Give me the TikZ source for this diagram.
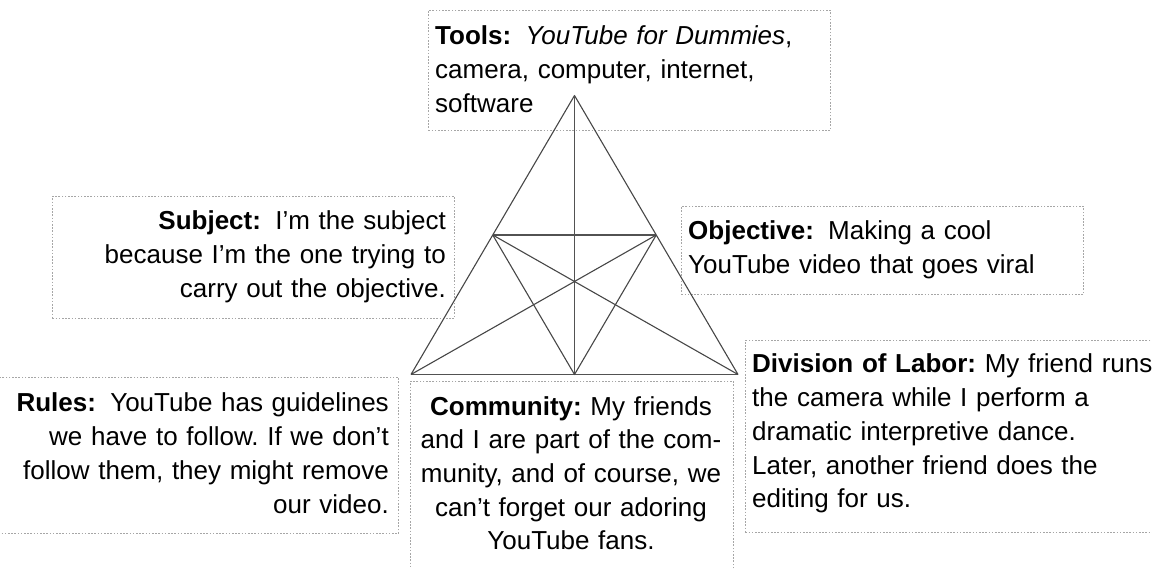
\documentclass[tikz,border=0pt]{standalone}
\usepackage{fontspec}
\setmainfont{Liberation Sans}
\usetikzlibrary{calc}
\frenchspacing
\begin{document}
\begin{tikzpicture}[x=1pt,y=-1pt,
  box/.style={draw=gray!70, line width=0.9pt, dash pattern=on 1.6pt off 1.6pt, inner sep=0pt, anchor=north west},
  txt/.style={inner sep=0pt, text width=450pt, font=\fontsize{26}{33.7}\selectfont\frenchspacing},
  tri/.style={draw=black!72, line width=1.1pt, line join=round},
  trithick/.style={draw=black!68, line width=1.8pt, line join=round}]
\useasboundingbox (0,0) rectangle (1152,569);
\clip (0,0) rectangle (1152,569);
% dotted boxes
\node[box, minimum width=402pt, minimum height=120pt] (toolsbox) at (428,10) {};
\node[box, minimum width=402pt, minimum height=122pt] (subjectbox) at (52,196) {};
\node[box, minimum width=402pt, minimum height=88pt] (objectivebox) at (681,206) {};
\node[box, minimum width=400pt, minimum height=156pt] (rulesbox) at (-2,377) {};
\node[box, minimum width=323pt, minimum height=200pt] (communitybox) at (410,381) {};
\node[box, minimum width=420pt, minimum height=192pt] (divisionbox) at (745,340) {};
% texts
\node[txt, anchor=base west, align=left] (toolstext) at (435,45)
  {\textbf{Tools:}\hspace{0.55em}\textit{YouTube for Dummies},\\camera, computer, internet,\\software};
\node[txt, anchor=base east, align=right] (subjecttext) at (446,230)
  {\textbf{Subject:}\hspace{0.55em}I'm the subject\\because I'm the one trying to\\carry out the objective.};
\node[txt, anchor=base west, align=left] (objectivetext) at (688,240)
  {\textbf{Objective:}\hspace{0.55em}Making a cool\\YouTube video that goes viral};
\node[txt, anchor=base east, align=right] (rulestext) at (389,412)
  {\textbf{Rules:}\hspace{0.55em}YouTube has guidelines\\we have to follow. If we don't\\follow them, they might remove\\our video.};
\node[txt, anchor=base, align=center] (communitytext) at (571,415)
  {\textbf{Community:} My friends\\and I are part of the com-\\munity, and of course, we\\can't forget our adoring\\YouTube fans.};
\node[txt, anchor=base west, align=left] (divisiontext) at (752,373)
  {\textbf{Division of Labor:} My friend runs\\the camera while I perform a\\dramatic interpretive dance.\\Later, another friend does the\\editing for us.};
% activity triangle
\coordinate (A) at (574.5,95.5);
\coordinate (B) at (411,374.5);
\coordinate (C) at (738,374.5);
\coordinate (mAB) at ($(A)!0.5!(B)$);
\coordinate (mAC) at ($(A)!0.5!(C)$);
\coordinate (mBC) at ($(B)!0.5!(C)$);
\draw[tri] (B) -- (A) -- (C);
\draw[trithick] (B) -- (C);
\draw[trithick] (A) -- (mBC);
\draw[trithick] (mAB) -- (mAC);
\draw[tri] (mAB) -- (mBC) -- (mAC);
\draw[tri] (B) -- (mAC);
\draw[tri] (C) -- (mAB);
\end{tikzpicture}
\end{document}
